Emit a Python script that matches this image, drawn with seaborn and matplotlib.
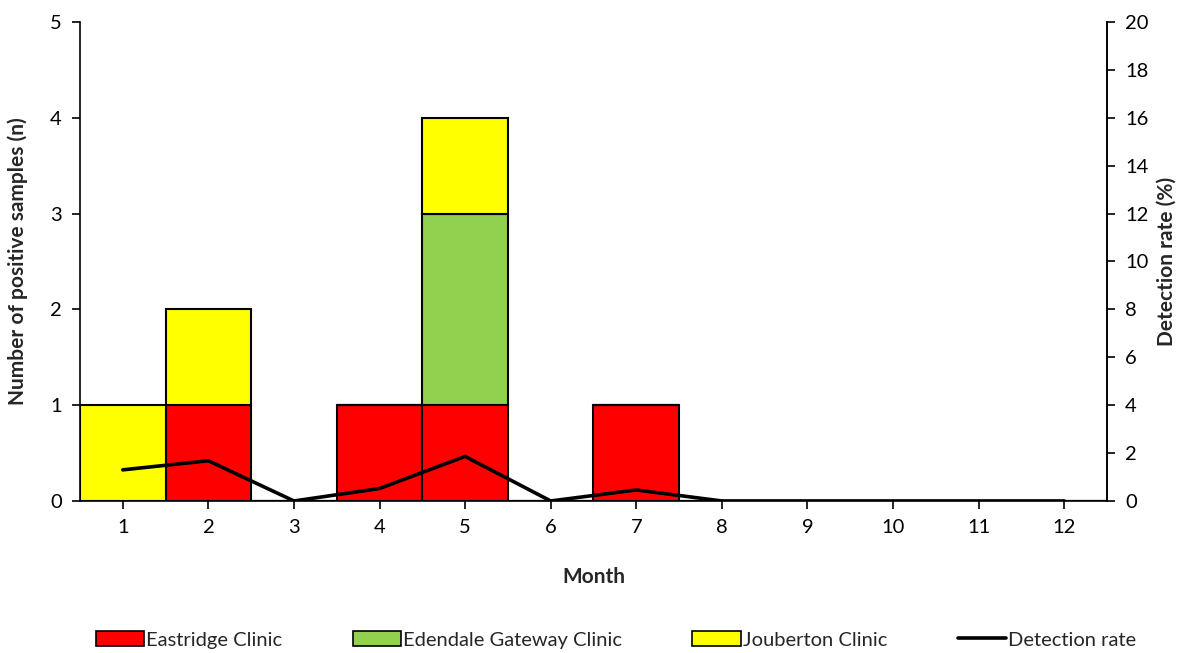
import numpy as np
import pandas as pd
import matplotlib
matplotlib.use("Agg")
import matplotlib.pyplot as plt
from matplotlib.patches import Patch
from matplotlib.lines import Line2D
import seaborn as sns

months = list(range(1, 13))
eastridge = [0, 1, 0, 1, 1, 0, 1, 0, 0, 0, 0, 0]
edendale = [0, 0, 0, 0, 2, 0, 0, 0, 0, 0, 0, 0]
jouberton = [1, 1, 0, 0, 1, 0, 0, 0, 0, 0, 0, 0]
detection_rate = [1.3, 1.68, 0, 0.52, 1.86, 0, 0.46, 0, 0, 0, 0, 0]

sns.set_theme(style="white")
plt.rcParams["font.family"] = ["Lato", "DejaVu Sans"]

fig = plt.figure(figsize=(11.82, 6.53), dpi=100)
ax = fig.add_axes([0.0677, 0.2328, 0.8688, 0.7335])

df = pd.DataFrame({"month": months, "east": eastridge, "eden": edendale,
                   "joub": jouberton, "rate": detection_rate})
bottom_eden = np.array(eastridge)
bottom_joub = bottom_eden + np.array(edendale)

colors = {"east": "#ff0000", "eden": "#92d050", "joub": "#ffff00"}
edge = dict(edgecolor="black", linewidth=1.5, width=1.0, native_scale=True)

sns.barplot(data=df, x="month", y="east", color=colors["east"], ax=ax,
            saturation=1, **edge)
sns.barplot(data=df, x="month", y="eden", color=colors["eden"], ax=ax,
            saturation=1, bottom=bottom_eden, **edge)
sns.barplot(data=df, x="month", y="joub", color=colors["joub"], ax=ax,
            saturation=1, bottom=bottom_joub, **edge)

ax.set_xlim(0.5, 12.5)
ax.set_ylim(0, 5)
ax.set_xticks(months)
ax.set_xticklabels([str(m) for m in months])
ax.set_yticks(range(0, 6))
ax.set_xlabel("Month", fontsize=15, fontweight="bold", labelpad=22)
ax.set_ylabel("Number of positive samples (n)", fontsize=15, fontweight="bold", labelpad=16)
ax.tick_params(axis="both", labelsize=14.5, direction="out", length=6, width=1.2,
               colors="black", left=True, bottom=True, pad=7)
for s in ["top"]:
    ax.spines[s].set_visible(False)
for s in ["left", "bottom", "right"]:
    ax.spines[s].set_color("black")
    ax.spines[s].set_linewidth(1.2)

ax2 = ax.twinx()
sns.lineplot(data=df, x="month", y="rate", color="black", linewidth=2.6, ax=ax2)
ax2.set_ylim(0, 20)
ax2.set_yticks(range(0, 21, 2))
ax2.set_xlim(0.5, 12.5)
ax2.set_ylabel("Detection rate (%)", fontsize=15, fontweight="bold", labelpad=6)
ax2.tick_params(axis="y", labelsize=14.5, direction="out", length=6, width=1.2,
                colors="black", right=True, pad=7)
ax2.spines["top"].set_visible(False)
ax2.spines["right"].set_color("black")
ax2.spines["right"].set_linewidth(1.2)
ax2.spines["left"].set_visible(False)
ax2.spines["bottom"].set_visible(False)

handles = [
    Patch(facecolor=colors["east"], edgecolor="black", linewidth=1.2, label="Eastridge Clinic"),
    Patch(facecolor=colors["eden"], edgecolor="black", linewidth=1.2, label="Edendale Gateway Clinic"),
    Patch(facecolor=colors["joub"], edgecolor="black", linewidth=1.2, label="Jouberton Clinic"),
    Line2D([0], [0], color="black", linewidth=2.6, label="Detection rate"),
]
fig.legend(handles=handles, loc="center", bbox_to_anchor=(0.521, 0.02), ncol=4,
           frameon=False, fontsize=14.5, handlelength=2.4, handleheight=0.8,
           handletextpad=0.1, columnspacing=3.5)

fig.savefig("out.png", dpi=100)
